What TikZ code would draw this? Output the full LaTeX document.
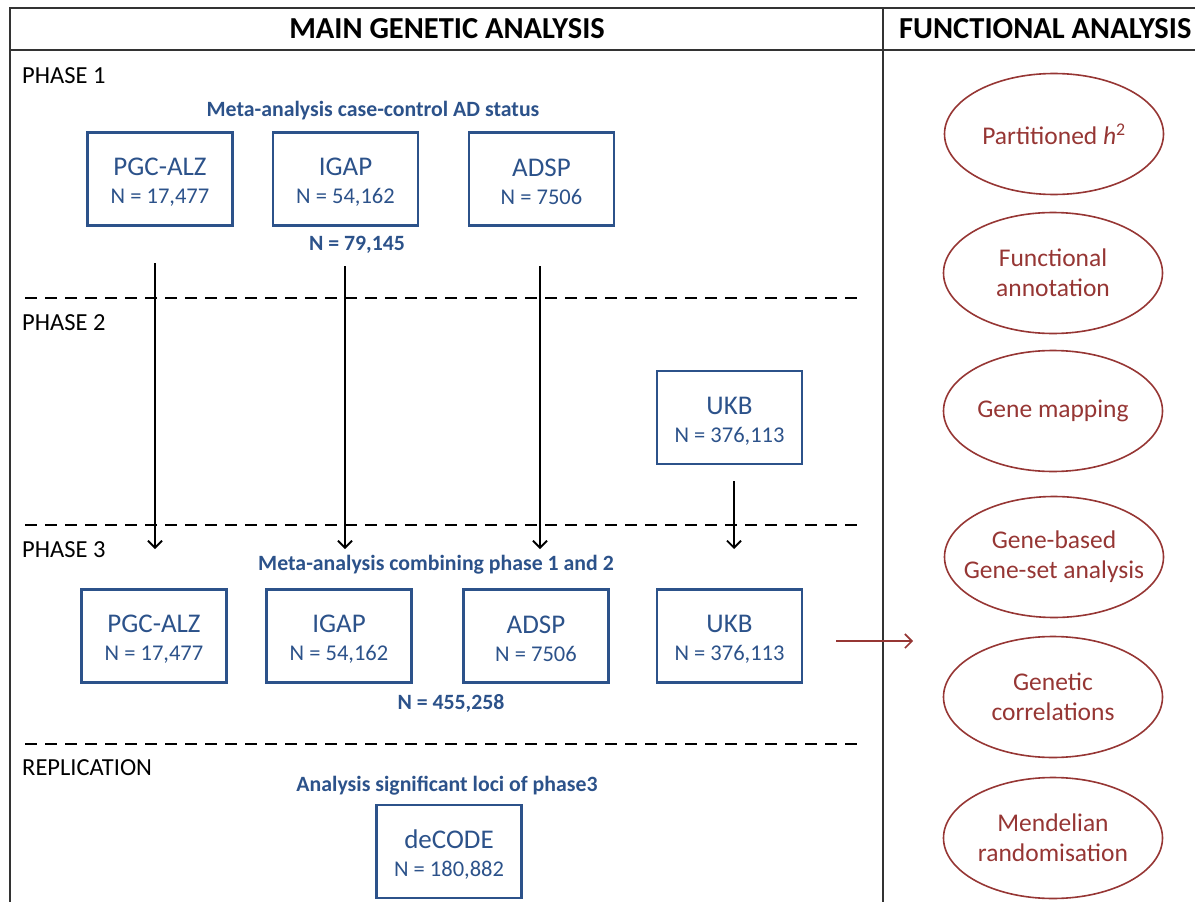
\documentclass[tikz,border=0pt]{standalone}
\usepackage{fontspec}
\setmainfont{Carlito}
\usetikzlibrary{arrows.meta,positioning,shapes.geometric}

\definecolor{cohortblue}{RGB}{44,82,138}
\definecolor{funcred}{RGB}{150,54,52}

\tikzset{
  cohort/.style={rectangle, draw=cohortblue, line width=2.6pt, text=cohortblue,
    minimum width=145pt, minimum height=93pt, align=center, inner sep=0pt,
    font=\fontsize{27}{28}\selectfont},
  heading/.style={text=cohortblue, font=\fontsize{21.8}{24}\selectfont\bfseries},
  total/.style={text=cohortblue, font=\fontsize{21.8}{24}\selectfont\bfseries},
  phaselbl/.style={anchor=west, inner sep=0pt, font=\fontsize{24.5}{26}\selectfont},
  colhead/.style={font=\fontsize{30.5}{32}\selectfont\bfseries},
  func/.style={ellipse, draw=funcred, line width=1.6pt, text=funcred,
    minimum width=219pt, minimum height=121pt, inner xsep=-14pt, inner ysep=0pt,
    align=center, font=\fontsize{25.5}{30}\selectfont},
  sep/.style={dash pattern=on 12pt off 8pt, line width=1.4pt},
  flow/.style={-{Straight Barb[length=7pt,width=14pt]}, line width=1.8pt},
}
\newcommand{\cohortlbl}[2]{\rule{0pt}{24pt}#1\\[0pt]{\fontsize{22.5}{28}\selectfont N = #2}}

\begin{document}
\begin{tikzpicture}[x=1pt,y=-1pt]
  \useasboundingbox (0,0) rectangle (1195,902);

  % frame
  \draw[line width=1.2pt, black!80] (10,902) -- (10,8) -- (1200,8);
  \draw[line width=1.2pt, black!80] (10,50) -- (1200,50);
  \draw[line width=1.2pt, black!80] (883,8) -- (883,902);
  \node[colhead] (mainhead) at (447,29) {MAIN GENETIC ANALYSIS};
  \node[colhead, anchor=west, inner sep=0pt] (funchead) at (899,29) {FUNCTIONAL ANALYSIS};

  % phase separators
  \draw[sep] (25,298) -- (862,298);
  \draw[sep] (25,525) -- (862,525);
  \draw[sep] (25,744) -- (862,744);

  \node[phaselbl] (ph1) at (22,76) {PHASE 1};
  \node[phaselbl] (ph2) at (22,323) {PHASE 2};
  \node[phaselbl] (ph3) at (22,550) {PHASE 3};
  \node[phaselbl] (rep) at (22,768) {REPLICATION};

  % phase 1
  \node[heading] (meta1) at (373,111) {Meta-analysis case-control AD status};
  \node[cohort] (pgc1) at (160,179) {\cohortlbl{PGC-ALZ}{17,477}};
  \node[cohort] (igap1) at (345.5,179) {\cohortlbl{IGAP}{54,162}};
  \node[cohort] (adsp1) at (541.5,179) {\cohortlbl{ADSP}{7506}};
  \node[total] (tot1) at (357,245) {N = 79,145};

  % phase 2
  \node[cohort] (ukb2) at (729.5,417.5) {\cohortlbl{UKB}{376,113}};

  % phase 3
  \node[heading] (meta3) at (436,565) {Meta-analysis combining phase 1 and 2};
  \node[cohort] (pgc3) at (154,636) {\cohortlbl{PGC-ALZ}{17,477}};
  \node[cohort] (igap3) at (339,636) {\cohortlbl{IGAP}{54,162}};
  \node[cohort] (adsp3) at (536,636) {\cohortlbl{ADSP}{7506}};
  \node[cohort] (ukb3) at (729.5,636) {\cohortlbl{UKB}{376,113}};
  \node[total] (tot3) at (451,703) {N = 455,258};

  % replication
  \node[heading] (metarep) at (447,786) {Analysis significant loci of phase3};
  \node[cohort] (decode) at (449,851.5) {\cohortlbl{deCODE}{180,882}};

  % arrows between phases
  \coordinate (a1s) at (155,263);  \coordinate (a1e) at (155,549);
  \coordinate (a2s) at (345,266);  \coordinate (a2e) at (345,549);
  \coordinate (a3s) at (540,266);  \coordinate (a3e) at (540,549);
  \coordinate (a4s) at (734,481);  \coordinate (a4e) at (734,549);
  \draw[flow] (a1s) -- (a1e);
  \draw[flow] (a2s) -- (a2e);
  \draw[flow] (a3s) -- (a3e);
  \draw[flow] (a4s) -- (a4e);

  % functional analyses
  \node[func] (parth) at (1054,134) {Partitioned \textit{h}\textsuperscript{2}};
  \node[func] (annot) at (1053,273) {Functional\\annotation};
  \node[func] (genemap) at (1053,411) {Gene mapping};
  \node[func] (geneset) at (1054,557) {Gene-based\\Gene-set analysis};
  \node[func] (gencor) at (1053,697) {Genetic\\correlations};
  \node[func] (mr) at (1053,838) {Mendelian\\randomisation};

  \coordinate (fs) at (836,641);
  \coordinate (fe) at (913,641);
  \draw[-{Straight Barb[length=7pt,width=14pt]}, line width=1.6pt, funcred] (fs) -- (fe);
\end{tikzpicture}
\end{document}
